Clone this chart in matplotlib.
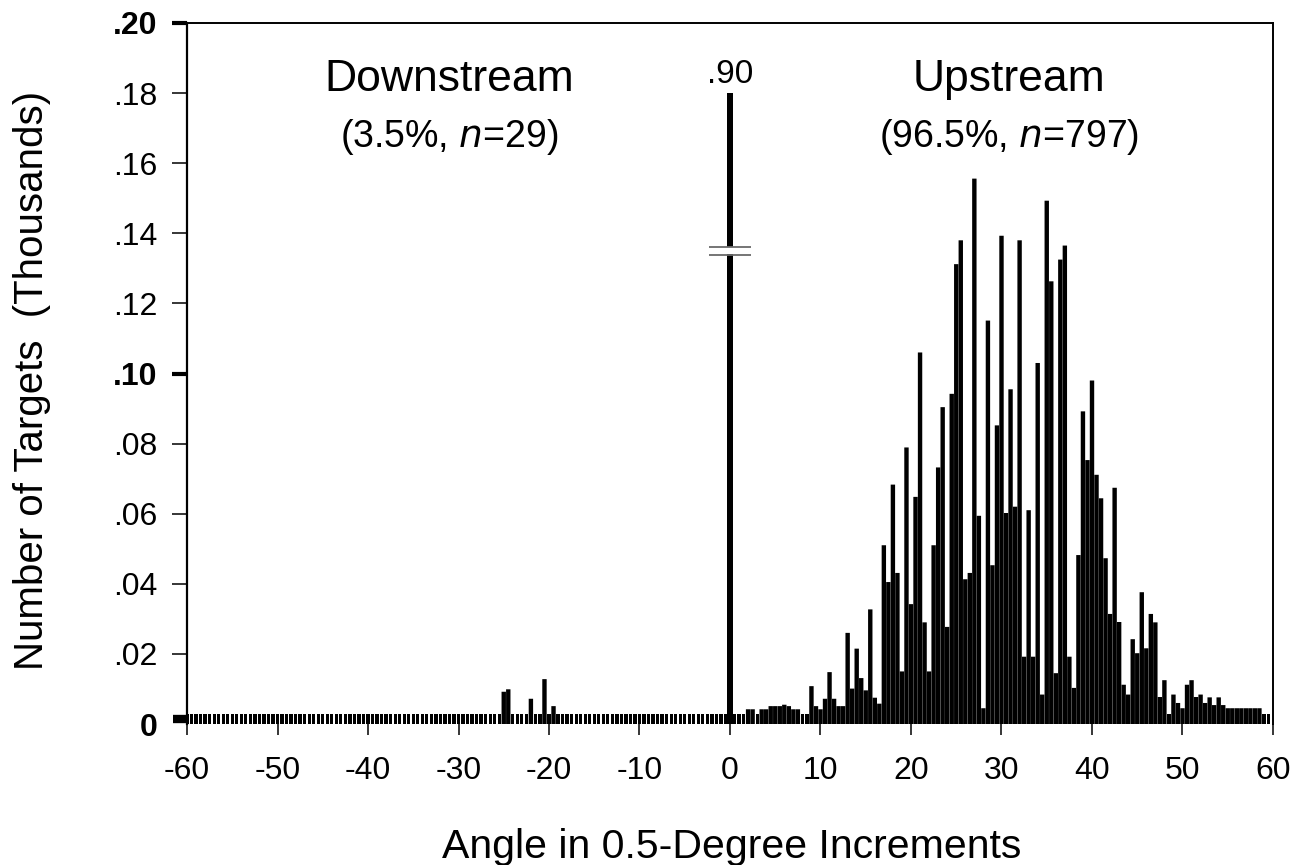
import numpy as np
import matplotlib
matplotlib.use("Agg")
import matplotlib.pyplot as plt

plt.rcParams['font.family'] = ['Liberation Sans', 'DejaVu Sans']

# ---------------- data (thousands of targets per 0.5-degree bin) ----------------
bin_angles = np.arange(-60.0, 60.0, 0.5)          # every bin on the axis

neg_angles = [-25.0, -24.5, -22.0, -20.5, -19.5]
neg_counts = [0.0092, 0.0099, 0.0072, 0.0128, 0.0051]

center_angle = 0.0
center_count = 0.90          # drawn truncated, labelled ".90"

pos_angles = list(np.arange(0.5, 60.0, 0.5))
pos_counts = [
    0, 0, 0, 0.0042, 0.0042, 0, 0.0042, 0.0042, 0.0051, 0.0051,          # 0.5 - 5.0
    0.0051, 0.0055, 0.0051, 0.0042, 0.0042, 0, 0, 0.0108, 0.0051, 0.0042,  # 5.5 - 10.0
    0.0072, 0.0148, 0.0072, 0.0051, 0.0051, 0.0260, 0.0101, 0.0215, 0.0131, 0.0096,  # 10.5 - 15.0
    0.0327, 0.0075, 0.0058, 0.0510, 0.0405, 0.0683, 0.0431, 0.0150, 0.0789, 0.0342,  # 15.5 - 20.0
    0.0648, 0.1060, 0.0290, 0.0150, 0.0510, 0.0732, 0.0904, 0.0277, 0.0942, 0.1312,  # 20.5 - 25.0
    0.1380, 0.0413, 0.0431, 0.1556, 0.0594, 0.0045, 0.1151, 0.0453, 0.0852, 0.1393,  # 25.5 - 30.0
    0.0602, 0.0955, 0.0620, 0.1380, 0.0192, 0.0610, 0.0192, 0.1030, 0.0084, 0.1493,  # 30.5 - 35.0
    0.1263, 0.0145, 0.1325, 0.1365, 0.0192, 0.0103, 0.0482, 0.0892, 0.0753, 0.0980,  # 35.5 - 40.0
    0.0711, 0.0644, 0.0473, 0.0314, 0.0674, 0.0291, 0.0112, 0.0084, 0.0242, 0.0202,  # 40.5 - 45.0
    0.0376, 0.0216, 0.0314, 0.0290, 0.0077, 0.0125, 0, 0.0084, 0.0060, 0.0045,       # 45.5 - 50.0
    0.0112, 0.0125, 0.0077, 0.0084, 0.0060, 0.0076, 0.0054, 0.0076, 0.0054, 0.0045,  # 50.5 - 55.0
    0.0045, 0.0045, 0.0045, 0.0045, 0.0045, 0.0045, 0.0045, 0, 0,                    # 55.5 - 59.5
]

x_ticks = [-60, -50, -40, -30, -20, -10, 0, 10, 20, 30, 40, 50, 60]
x_ticklabels = ['-60', '-50', '-40', '-30', '-20', '-10', '0', '10', '20', '30', '40', '50', '60']
y_ticks = [0, 0.02, 0.04, 0.06, 0.08, 0.10, 0.12, 0.14, 0.16, 0.18, 0.20]
y_ticklabels = ['0', '.02', '.04', '.06', '.08', '.10', '.12', '.14', '.16', '.18', '.20']
bold_y = {'0', '.10', '.20'}

# ---------------- styles ----------------
BAND = 0.0028        # height of the marker shown for every (empty) bin
BREAK_TOP = 0.18     # display height of the truncated centre bar
W, H = 1299, 865

fig = plt.figure(figsize=(W / 100, H / 100), dpi=100)
ax = fig.add_axes([187 / W, 1 - 724 / H, (1273 - 187) / W, (724 - 23) / H])
ax.set_xlim(-60, 60)
ax.set_ylim(0, 0.20)

# baseline marker for every bin
ax.bar(bin_angles, [BAND] * len(bin_angles), width=0.36, color='black', linewidth=0, zorder=2)

# data bars
for xs, ys in ((neg_angles, neg_counts), (pos_angles, pos_counts)):
    bars = ax.bar(xs, ys, width=0.485, color='black', linewidth=0, zorder=3)
    for b in bars:
        b.set_snap(False)

# centre bar (truncated) with break marks
ax.bar([center_angle], [min(center_count, BREAK_TOP)], width=0.68, color='black', linewidth=0, zorder=3)
ax.fill_between([-0.5, 0.5], 0.1342, 0.1360, color='white', zorder=4, linewidth=0)
for yb in (0.1339, 0.1362):
    ax.plot([-2.3, 2.3], [yb, yb], color='#6a6a6a', lw=1.3, zorder=5, solid_capstyle='butt')
ax.text(center_angle, 0.1829, '.{:02d}'.format(int(round(center_count * 100))),
        ha='center', va='baseline', fontsize=24)

# annotations
ax.text(-31, 0.1806, 'Downstream', ha='center', va='baseline', fontsize=32)
ax.text(-31, 0.1647, r'(3.5%, $\mathit{n}$=29)', ha='center', va='baseline', fontsize=27)
ax.text(30.8, 0.1806, 'Upstream', ha='center', va='baseline', fontsize=32)
ax.text(30.8, 0.1647, r'(96.5%, $\mathit{n}$=797)', ha='center', va='baseline', fontsize=27)

# spines
ax.spines['bottom'].set_visible(False)
ax.spines['left'].set_linewidth(1.6)
ax.spines['top'].set_linewidth(1.4)
ax.spines['right'].set_linewidth(1.4)
for s in ax.spines.values():
    s.set_zorder(6)

# ticks
ax.set_xticks(x_ticks)
ax.set_xticklabels(x_ticklabels)
ax.tick_params(axis='x', direction='out', length=8, width=1.1, pad=15, labelsize=23)
ax.set_yticks(y_ticks)
ax.set_yticklabels(y_ticklabels)
ax.tick_params(axis='y', direction='out', length=10.5, width=1.1, pad=11, labelsize=23)
for t, lab in zip(ax.yaxis.get_major_ticks(), y_ticklabels):
    if lab in bold_y:
        t.label1.set_fontweight('bold')
        t.tick1line.set_markeredgewidth(3)
    if lab == '0':
        t.tick1line.set_visible(False)
# thick zero tick
ax.plot([-61.6, -60], [0.0013, 0.0013], color='black', lw=6, solid_capstyle='butt',
        clip_on=False, zorder=6)

# axis titles
fig.text(731.5 / W, (H - 858) / H, 'Angle in 0.5-Degree Increments', ha='center',
         va='baseline', fontsize=29.5)
fig.text(43 / W, (H - 380) / H, 'Number of Targets  (Thousands)', rotation=90,
         rotation_mode='anchor', ha='center', va='baseline', fontsize=29)

fig.savefig('out.png', dpi=100)
